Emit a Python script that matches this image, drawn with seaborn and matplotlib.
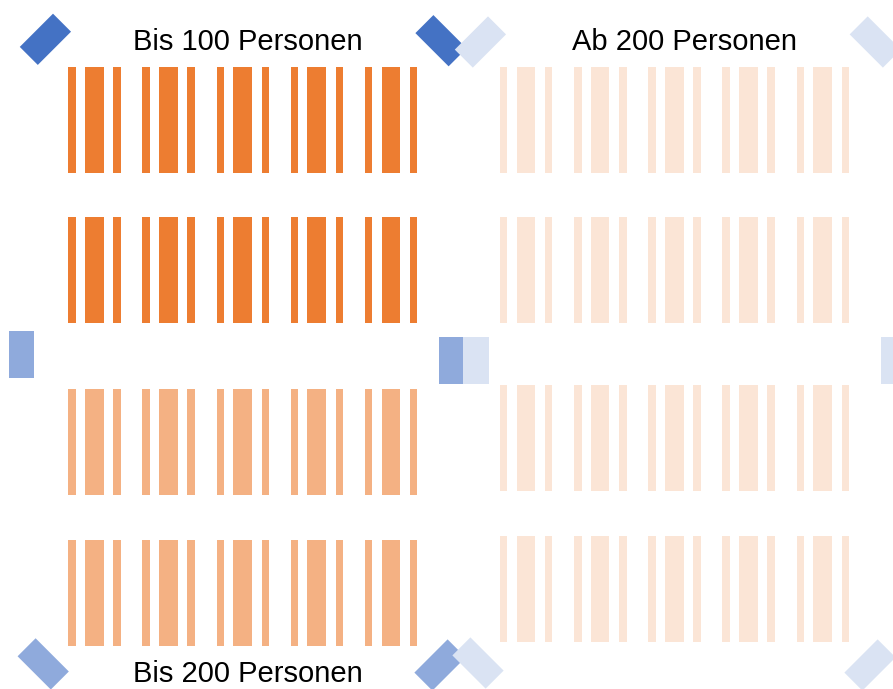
import numpy as np
import pandas as pd
import matplotlib
matplotlib.use("Agg")
import matplotlib.pyplot as plt
from matplotlib.patches import Polygon
import seaborn as sns

# ---------------- data ----------------
sections = ["Bis 100 Personen", "Bis 200 Personen", "Ab 200 Personen"]
section_label_side = ["links", "links", "rechts"]
section_label_pos = ["oben", "unten", "oben"]

row_side = ["links", "links", "links", "links",
            "rechts", "rechts", "rechts", "rechts"]
row_section = ["Bis 100 Personen", "Bis 100 Personen",
               "Bis 200 Personen", "Bis 200 Personen",
               "Ab 200 Personen", "Ab 200 Personen",
               "Ab 200 Personen", "Ab 200 Personen"]
tables_per_row = [5, 5, 5, 5, 5, 5, 5, 5]
table_parts = ["Stuhlreihe", "Tisch", "Stuhlreihe"]

# speakers (diagram symbols) per section
speaker_section = ["Bis 100 Personen", "Bis 100 Personen",
                   "Bis 200 Personen", "Bis 200 Personen",
                   "Bis 200 Personen", "Bis 200 Personen",
                   "Ab 200 Personen", "Ab 200 Personen",
                   "Ab 200 Personen", "Ab 200 Personen",
                   "Ab 200 Personen", "Ab 200 Personen"]
speaker_x = [45.4, 441.0, 21.3, 451.3, 43.2, 440.0,
             480.4, 875.3, 476.2, 893.5, 478.0, 870.0]
speaker_y = [39.3, 40.7, 354.3, 360.3, 663.9, 665.0,
             42.0, 42.0, 360.3, 360.3, 663.0, 665.0]
speaker_dir = ["/", "\\", "|", "|", "\\", "/",
               "/", "\\", "|", "|", "\\", "/"]

# ---------------- styles / layout ----------------
bar_colors = {"Bis 100 Personen": "#ED7D31",
              "Bis 200 Personen": "#F4B183",
              "Ab 200 Personen": "#FBE5D6"}
spk_colors = {"Bis 100 Personen": "#4472C4",
              "Bis 200 Personen": "#8FAADC",
              "Ab 200 Personen": "#DAE3F3"}
row_top = [67, 217, 389, 540, 67, 217, 385, 536]
row_height = 105.5
side_x0 = {"links": 68.3, "rechts": 500.0}
pitch = 74.15
part_offset = [0.0, 16.6, 45.0]
part_width = [7.4, 18.7, 7.4]
spk_long, spk_short = 47.0, 25.5
label_x = {"links": 247.5, "rechts": 684.5}
label_y = {"oben": 50.5, "unten": 682.0}

# ---------------- build bar table ----------------
recs = []
for r, (side, sec, n) in enumerate(zip(row_side, row_section, tables_per_row)):
    for t in range(n):
        for p, part in enumerate(table_parts):
            left = side_x0[side] + t * pitch + part_offset[p]
            recs.append(dict(row=r, section=sec, part=part,
                             xc=left + part_width[p] / 2,
                             w=part_width[p], h=row_height))
df = pd.DataFrame(recs)

sns.set_theme(style="white")
fig = plt.figure(figsize=(8.93, 6.89), dpi=100)
ax = fig.add_axes([0, 0, 1, 1])

for r in range(len(row_side)):
    for part in ["Stuhlreihe", "Tisch"]:
        sub = df[(df.row == r) & (df.part == part)]
        u = np.unique(sub.xc)
        nw = np.min(np.diff(u)) if len(u) > 1 else 1.0
        sns.barplot(data=sub, x="xc", y="h", orient="x", native_scale=True,
                    width=sub.w.iloc[0] / nw, bottom=row_top[r],
                    color=bar_colors[row_section[r]], saturation=1,
                    errorbar=None, linewidth=0, ax=ax)

# speakers
dirs = {"/": (1, -1), "\\": (1, 1), "|": (0, 1)}
for sec, x, y, d in zip(speaker_section, speaker_x, speaker_y, speaker_dir):
    ux, uy = dirs[d]
    nrm = np.hypot(ux, uy)
    ux, uy = ux / nrm, uy / nrm
    vx, vy = -uy, ux
    L, W = spk_long / 2, spk_short / 2
    pts = [(x + ux * L + vx * W, y + uy * L + vy * W),
           (x + ux * L - vx * W, y + uy * L - vy * W),
           (x - ux * L - vx * W, y - uy * L - vy * W),
           (x - ux * L + vx * W, y - uy * L + vy * W)]
    ax.add_patch(Polygon(pts, closed=True, facecolor=spk_colors[sec],
                         edgecolor="none", zorder=3))

# section labels
for sec, side, pos in zip(sections, section_label_side, section_label_pos):
    ax.text(label_x[side], label_y[pos], sec, ha="center", va="baseline",
            fontsize=21, family="Liberation Sans", color="black", zorder=4)

ax.set_xlim(0, 893)
ax.set_ylim(689, 0)
ax.axis("off")
fig.savefig("out.png", dpi=100, facecolor="white")
